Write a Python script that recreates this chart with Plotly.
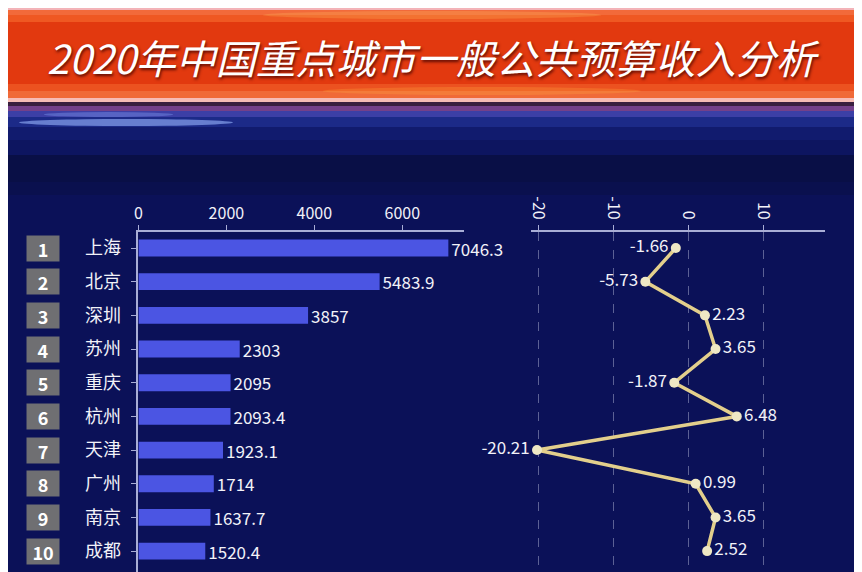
import plotly.graph_objects as go

title_text = "2020年中国重点城市一般公共预算收入分析"
ranks = ["1", "2", "3", "4", "5", "6", "7", "8", "9", "10"]
cities = ["上海", "北京", "深圳", "苏州", "重庆", "杭州", "天津", "广州", "南京", "成都"]
income = [7046.3, 5483.9, 3857, 2303, 2095, 2093.4, 1923.1, 1714, 1637.7, 1520.4]
growth = [-1.66, -5.73, 2.23, 3.65, -1.87, 6.48, -20.21, 0.99, 3.65, 2.52]

bar_ticks = [0, 2000, 4000, 6000]
bar_ticktext = ["0", "2000", "4000", "6000"]
growth_ticks = [-20, -10, 0, 10]
growth_ticktext = ["-20", "-10", "0", "10"]

W, H = 862, 572
OFF = 8  # page body margin, figure is drawn 8px right / down
FONT = "Noto Sans CJK SC"


def px(x):
    return (x - OFF) / W


def py(y):
    return 1 - (y - OFF) / H


def box(x0, y0, x1, y1, color, kind="rect", opacity=1):
    # screen pixel box -> paper coords
    return dict(type=kind, xref="paper", yref="paper",
                x0=px(x0), x1=px(x1), y0=py(y1), y1=py(y0),
                fillcolor=color, line_width=0, layer="below", opacity=opacity)


shapes = [
    box(0, 8, W + 8, 10, "#f3b3b8"),
    box(0, 10, W + 8, 15, "#f26a3a"),
    box(0, 15, W + 8, 22, "#ef5822"),
    box(0, 22, W + 8, 84, "#e2390f"),
    box(0, 84, W + 8, 91, "#ec5220"),
    box(0, 91, W + 8, 98, "#f06a38"),
    box(0, 98, W + 8, 102, "#f6bcb6"),
    box(0, 102, W + 8, 106, "#3a1f3f"),
    box(0, 106, W + 8, 111, "#74408a"),
    box(0, 111, W + 8, 117, "#3c3fa6"),
    box(0, 117, W + 8, 127, "#1c2a88"),
    box(0, 127, W + 8, 140, "#111b6e"),
    box(0, 140, W + 8, 155, "#0d1560"),
    box(0, 155, W + 8, 182, "#090f46"),
    box(0, 182, W + 8, 195, "#0a104e"),
    # glows
    box(260, 11, 600, 19, "#ffc060", "circle", 0.25),
    box(320, 87, 640, 95, "#ffb040", "circle", 0.25),
    box(15, 119, 230, 126, "#9ab8ff", "circle", 0.6),
    box(40, 112, 170, 117, "#7f9cf0", "circle", 0.4),
]

fig = go.Figure()

fig.add_trace(go.Bar(
    x=income, y=cities, orientation="h",
    xaxis="x", yaxis="y",
    marker=dict(color="#4b55e3", line_width=0),
    text=[f"{v:g}" for v in income], textposition="outside",
    textfont=dict(color="#f2f2f8", size=17, family=FONT),
    constraintext="none", cliponaxis=False, showlegend=False,
))

fig.add_trace(go.Scatter(
    x=growth, y=cities, xaxis="x2", yaxis="y",
    mode="lines+markers+text",
    line=dict(color="#e3cf8c", width=3.5),
    marker=dict(color="#efe8c4", size=10),
    text=[f"{v:.2f}" for v in growth],
    textposition=["middle right" if v >= 0 else "middle left" for v in growth],
    textfont=dict(color="#f2f2f8", size=17, family=FONT),
    cliponaxis=False, showlegend=False,
))

annotations = [dict(
    text=title_text, xref="paper", yref="paper", x=px(431), y=py(57),
    showarrow=False, xanchor="center", yanchor="middle",
    font=dict(size=40, color="#ffffff", family=FONT, style="italic",
              shadow="1px 2px 3px rgba(60,0,0,0.8)"),
)]
for r, c in zip(ranks, cities):
    annotations.append(dict(
        text=f"<b>{r}</b>", xref="paper", yref="y", x=px(39), y=c,
        showarrow=False, xanchor="center", yanchor="middle",
        bgcolor="#6f6f72", width=32, height=25, borderpad=0,
        font=dict(size=18, color="#ffffff", family=FONT),
    ))

axis_col = "#a9aed6"
fig.update_layout(
    width=W, height=H,
    margin=dict(l=0, r=0, t=0, b=0),
    paper_bgcolor="#0b1158", plot_bgcolor="rgba(0,0,0,0)",
    shapes=shapes, annotations=annotations,
    bargap=0.5,
    font=dict(family=FONT, color="#f2f2f8"),
    xaxis=dict(
        domain=[px(135), px(462)], range=[0, 7400], side="top", anchor="y",
        tickvals=bar_ticks, ticktext=bar_ticktext,
        showline=True, linecolor=axis_col, linewidth=1.5,
        ticks="outside", ticklen=5, tickcolor=axis_col,
        showgrid=False, zeroline=False,
        tickfont=dict(size=16, color="#f2f2f8"),
    ),
    xaxis2=dict(
        domain=[px(529.5), px(825)], range=[-21, 18.3], side="top", anchor="y",
        tickvals=growth_ticks, ticktext=growth_ticktext, tickangle=90,
        showline=True, linecolor=axis_col, linewidth=1.5,
        ticks="outside", ticklen=5, tickcolor=axis_col,
        showgrid=True, gridcolor="rgba(190,195,225,0.45)", griddash="dash", gridwidth=1,
        zeroline=False,
        tickfont=dict(size=16, color="#f2f2f8"),
    ),
    yaxis=dict(
        domain=[0, py(232)], range=[9.62 + 8 / 33.7, -0.475], anchor="x",
        showline=True, linecolor=axis_col, linewidth=1.5,
        ticks="outside", ticklen=6, tickcolor=axis_col, ticklabelstandoff=6,
        showgrid=False, zeroline=False,
        tickfont=dict(size=18, color="#f2f2f8"),
    ),
)

fig.write_html("out.html")
